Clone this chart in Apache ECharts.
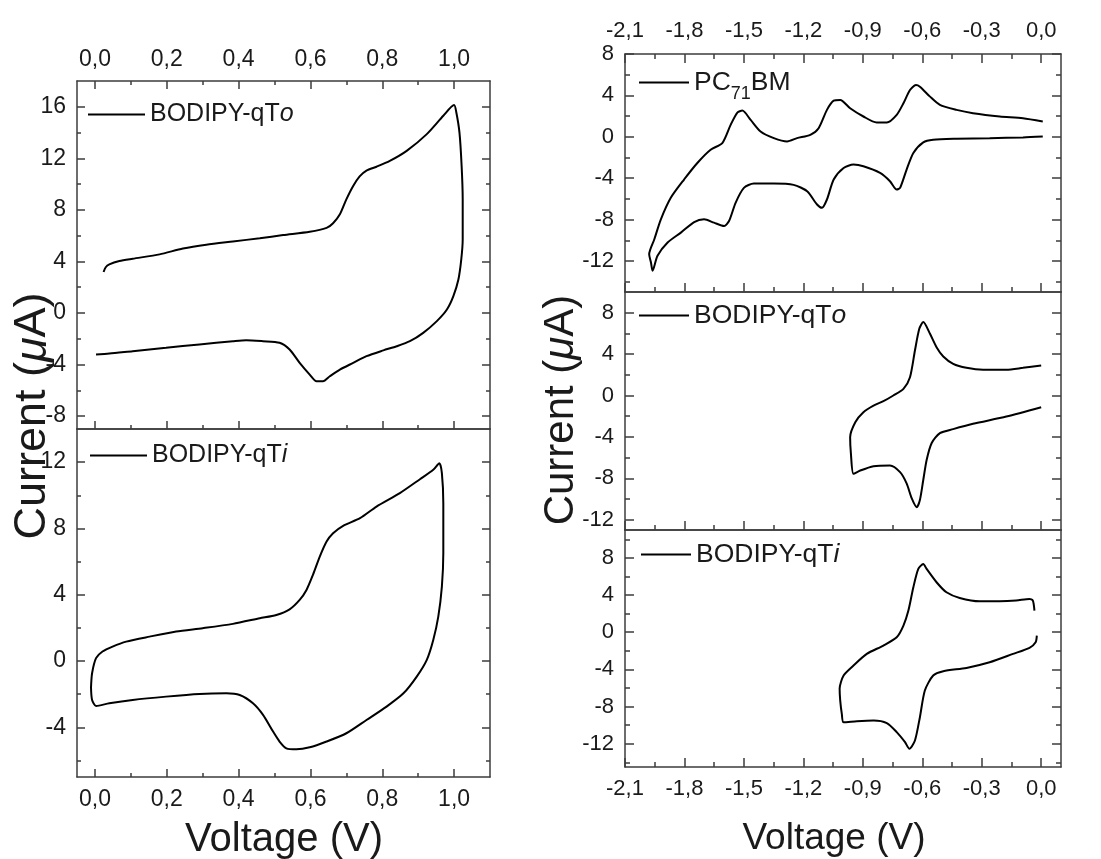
<!DOCTYPE html>
<html>
<head>
<meta charset="utf-8">
<title>Cyclic voltammograms</title>
<script src="https://cdn.jsdelivr.net/npm/echarts@6/dist/echarts.min.js"></script>
<style>
  html, body { margin: 0; padding: 0; background: #fff; }
  #chart { width: 1101px; height: 859px; }
</style>
</head>
<body>
<div id="chart"></div>
<script>
// 曲线数据: [电压 (V), 电流 (μA)]
const qToOxidation = [
  [0.024, 3.18], [0.03, 3.55], [0.04, 3.77], [0.068, 4.03], [0.105, 4.21], [0.18, 4.55],
  [0.245, 5.0], [0.31, 5.3], [0.384, 5.55], [0.459, 5.8], [0.524, 6.05], [0.598, 6.3],
  [0.645, 6.6], [0.663, 6.96], [0.682, 7.66], [0.7, 8.82], [0.719, 9.86], [0.737, 10.6],
  [0.756, 11.05], [0.784, 11.35], [0.821, 11.8], [0.868, 12.58], [0.924, 13.88], [0.97, 15.3],
  [1.0, 16.13], [1.006, 15.6], [1.015, 14.0], [1.021, 11.41], [1.024, 8.82], [1.024, 5.72],
  [1.02, 4.16], [1.012, 2.6], [0.998, 1.31], [0.98, 0.27], [0.952, -0.63], [0.914, -1.54],
  [0.877, -2.19], [0.84, -2.58], [0.803, -2.9], [0.756, -3.35], [0.719, -3.87], [0.682, -4.39],
  [0.654, -4.91], [0.635, -5.3], [0.617, -5.3], [0.598, -4.78], [0.57, -3.87], [0.542, -2.83],
  [0.514, -2.31], [0.468, -2.19], [0.421, -2.11], [0.384, -2.19], [0.291, -2.44], [0.198, -2.7],
  [0.105, -2.96], [0.04, -3.15], [0.003, -3.22]
]
const qTiOxidation = [
  [-0.011, -1.6], [-0.008, -0.74], [0.003, 0.17], [0.021, 0.57], [0.049, 0.87], [0.087, 1.17],
  [0.152, 1.47], [0.226, 1.78], [0.3, 1.98], [0.384, 2.24], [0.459, 2.58], [0.505, 2.78],
  [0.542, 3.12], [0.57, 3.69], [0.589, 4.29], [0.607, 5.2], [0.626, 6.3], [0.645, 7.21],
  [0.663, 7.71], [0.691, 8.16], [0.738, 8.62], [0.784, 9.32], [0.849, 10.13], [0.905, 10.97],
  [0.942, 11.54], [0.959, 11.94], [0.966, 11.34], [0.97, 9.52], [0.97, 6.51], [0.966, 4.49],
  [0.956, 2.68], [0.942, 1.27], [0.924, 0.07], [0.896, -0.94], [0.859, -1.95], [0.812, -2.75],
  [0.756, -3.56], [0.7, -4.36], [0.645, -4.86], [0.598, -5.21], [0.561, -5.33], [0.533, -5.27],
  [0.514, -4.86], [0.496, -4.26], [0.468, -3.25], [0.44, -2.55], [0.403, -2.05], [0.366, -1.95],
  [0.291, -1.99], [0.198, -2.15], [0.105, -2.35], [0.04, -2.55], [0.003, -2.71], [-0.008, -2.35],
  [-0.011, -1.6]
]
const pcbmReduction = [
  [0.008, 1.47], [-0.092, 1.79], [-0.209, 1.96], [-0.344, 2.28], [-0.427, 2.6], [-0.511, 3.08],
  [-0.561, 3.88], [-0.612, 4.84], [-0.632, 5.0], [-0.662, 4.52], [-0.695, 3.24], [-0.729, 2.12],
  [-0.779, 1.38], [-0.83, 1.38], [-0.897, 1.96], [-0.964, 2.76], [-1.014, 3.56], [-1.047, 3.49],
  [-1.081, 2.6], [-1.123, 0.83], [-1.165, 0.19], [-1.232, -0.13], [-1.282, -0.45], [-1.349, -0.13],
  [-1.416, 0.51], [-1.466, 1.63], [-1.508, 2.53], [-1.533, 2.34], [-1.567, 1.15], [-1.609, -0.61],
  [-1.668, -1.25], [-1.735, -2.53], [-1.802, -4.13], [-1.869, -5.9], [-1.919, -7.98], [-1.952, -9.9],
  [-1.978, -11.35], [-1.969, -12.15], [-1.961, -12.95], [-1.936, -11.5], [-1.885, -10.22], [-1.818, -9.26],
  [-1.751, -8.24], [-1.701, -7.98], [-1.651, -8.3], [-1.6, -8.62], [-1.575, -8.14], [-1.542, -6.38],
  [-1.5, -4.94], [-1.45, -4.52], [-1.349, -4.52], [-1.249, -4.65], [-1.181, -5.26], [-1.131, -6.54],
  [-1.106, -6.86], [-1.081, -6.06], [-1.047, -4.13], [-0.997, -3.01], [-0.947, -2.69], [-0.897, -2.85],
  [-0.813, -3.49], [-0.763, -4.29], [-0.729, -5.1], [-0.712, -4.94], [-0.679, -3.17], [-0.645, -1.57],
  [-0.595, -0.54], [-0.545, -0.29], [-0.427, -0.19], [-0.26, -0.13], [-0.092, -0.06], [0.008, 0.03]
]
const qToReduction = [
  [0, 2.9], [-0.092, 2.67], [-0.176, 2.48], [-0.293, 2.48], [-0.377, 2.67], [-0.444, 3.06],
  [-0.494, 3.77], [-0.528, 4.67], [-0.561, 5.96], [-0.595, 7.09], [-0.615, 6.44], [-0.637, 4.35],
  [-0.662, 1.77], [-0.695, 0.64], [-0.746, 0.0], [-0.796, -0.55], [-0.846, -0.97], [-0.897, -1.61],
  [-0.938, -2.58], [-0.964, -4.03], [-0.96, -5.64], [-0.947, -7.57], [-0.913, -7.25], [-0.846, -6.83],
  [-0.763, -6.76], [-0.712, -7.41], [-0.679, -8.5], [-0.653, -9.95], [-0.628, -10.79], [-0.612, -10.1],
  [-0.595, -8.17], [-0.578, -6.23], [-0.553, -4.61], [-0.511, -3.64], [-0.444, -3.25], [-0.344, -2.74],
  [-0.176, -2.03], [0, -1.13]
]
const qTiReduction = [
  [-0.034, 2.33], [-0.042, 3.41], [-0.059, 3.58], [-0.126, 3.41], [-0.209, 3.33], [-0.31, 3.33],
  [-0.411, 3.69], [-0.478, 4.3], [-0.528, 5.38], [-0.578, 6.81], [-0.595, 7.35], [-0.62, 6.81],
  [-0.645, 4.84], [-0.67, 2.33], [-0.695, 0.72], [-0.729, -0.54], [-0.796, -1.43], [-0.88, -2.33],
  [-0.947, -3.58], [-0.997, -4.66], [-1.017, -6.09], [-1.014, -7.35], [-1.006, -8.78], [-0.997, -9.68],
  [-0.93, -9.57], [-0.846, -9.5], [-0.779, -9.78], [-0.729, -10.75], [-0.687, -11.83], [-0.665, -12.54],
  [-0.637, -11.65], [-0.612, -9.14], [-0.587, -6.27], [-0.545, -4.66], [-0.494, -4.19], [-0.377, -3.84],
  [-0.26, -3.23], [-0.142, -2.33], [-0.059, -1.68], [-0.028, -1.08], [-0.022, -0.36]
]

// 刻度
const leftVoltTicks = [0, 0.2, 0.4, 0.6, 0.8, 1.0]
const leftVoltMinor = [0.1, 0.3, 0.5, 0.7, 0.9]
const rightVoltTicks = [-2.1, -1.8, -1.5, -1.2, -0.9, -0.6, -0.3, 0]
const rightVoltMinor = [-1.95, -1.65, -1.35, -1.05, -0.75, -0.45, -0.15]
const qToOxTicks = [-8, -4, 0, 4, 8, 12, 16]
const qToOxMinor = [-6, -2, 2, 6, 10, 14]
const qTiOxTicks = [-4, 0, 4, 8, 12]
const qTiOxMinor = [-6, -2, 2, 6, 10]
const reductionTicks = [-12, -8, -4, 0, 4, 8]
const pcbmMinor = [-14, -10, -6, -2, 2, 6]
const qToRedMinor = [-10, -6, -2, 2, 6]
const qTiRedMinor = [-14, -10, -6, -2, 2, 6, 10]

const FRAME = '#3c3c3c'
const TEXT = '#1a1a1a'
const FONT = '"Liberation Sans", Arial, Helvetica, sans-serif'

const voltFmt = v => v.toFixed(1).replace('.', ',')
const currentFmt = v => String(v)

// 面板布局
const panels = [
  {
    name: 'BODIPY-qTo ox', label: '{n|BODIPY-qT}{i|o}', data: qToOxidation,
    grid: { left: 77, top: 81, width: 413, height: 348 },
    x: [-0.05, 1.1], y: [-9, 18], xMajor: leftVoltTicks, xMinor: leftVoltMinor,
    yMajor: qToOxTicks, yMinor: qToOxMinor, xLabel: 'top', topTicks: true,
    tick: [8, 4], font: 23, legend: { left: 88, top: 102, w: 57, size: 25 }
  },
  {
    name: 'BODIPY-qTi ox', label: '{n|BODIPY-qT}{i|i}', data: qTiOxidation,
    grid: { left: 77, top: 429, width: 413, height: 348 },
    x: [-0.05, 1.1], y: [-7, 14], xMajor: leftVoltTicks, xMinor: leftVoltMinor,
    yMajor: qTiOxTicks, yMinor: qTiOxMinor, xLabel: 'bottom', topTicks: false,
    tick: [8, 4], font: 23, legend: { left: 90, top: 443, w: 57, size: 25 }
  },
  {
    name: 'PC71BM', label: '{n|PC}{s|71}{n|BM}', data: pcbmReduction,
    grid: { left: 625, top: 54, width: 436, height: 238 },
    x: [-2.1, 0.1], y: [-15, 8], xMajor: rightVoltTicks, xMinor: rightVoltMinor,
    yMajor: reductionTicks, yMinor: pcbmMinor, xLabel: 'top', topTicks: true,
    tick: [9, 5], font: 22, legend: { left: 639, top: 62, w: 50, size: 26.5 }
  },
  {
    name: 'BODIPY-qTo red', label: '{n|BODIPY-qT}{i|o}', data: qToReduction,
    grid: { left: 625, top: 292, width: 436, height: 238 },
    x: [-2.1, 0.1], y: [-13, 10], xMajor: rightVoltTicks, xMinor: rightVoltMinor,
    yMajor: reductionTicks, yMinor: qToRedMinor, xLabel: null, topTicks: false,
    tick: [9, 5], font: 22, legend: { left: 639, top: 302, w: 50, size: 26.5 }
  },
  {
    name: 'BODIPY-qTi red', label: '{n|BODIPY-qT}{i|i}', data: qTiReduction,
    grid: { left: 625, top: 530, width: 436, height: 237 },
    x: [-2.1, 0.1], y: [-14.5, 11], xMajor: rightVoltTicks, xMinor: rightVoltMinor,
    yMajor: reductionTicks, yMinor: qTiRedMinor, xLabel: 'bottom', topTicks: false,
    tick: [9, 5], font: 22, legend: { left: 641, top: 541, w: 50, size: 26.5 }
  }
]

const makeAxis = (gi, pos, range, opt) => {
  const ticks = opt.ticks || []
  return {
    type: 'value',
    gridIndex: gi,
    position: pos,
    min: range[0],
    max: range[1],
    axisLine: { show: !!opt.line, onZero: false, lineStyle: { color: FRAME, width: 1.5 } },
    axisTick: {
      show: ticks.length > 0,
      inside: true,
      length: opt.len || 8,
      customValues: ticks,
      lineStyle: { color: FRAME, width: 1.5 }
    },
    axisLabel: opt.fmt ? {
      show: true,
      customValues: ticks,
      formatter: opt.fmt,
      margin: opt.margin,
      fontSize: opt.font,
      fontFamily: FONT,
      color: TEXT
    } : { show: false },
    splitLine: { show: false },
    z: 5
  }
}

const xAxis = []
const yAxis = []
const series = []
const grid = []

panels.forEach((p, gi) => {
  grid.push(Object.assign({ outerBoundsMode: 'none' }, p.grid))
  const [big, small] = p.tick
  const xMain = xAxis.length
  xAxis.push(makeAxis(gi, 'bottom', p.x, {
    line: true, ticks: p.xMajor, len: big, font: p.font,
    fmt: p.xLabel === 'bottom' ? voltFmt : null, margin: 11
  }))
  xAxis.push(makeAxis(gi, 'bottom', p.x, { ticks: p.xMinor, len: small }))
  xAxis.push(makeAxis(gi, 'top', p.x, {
    line: true, ticks: p.topTicks ? p.xMajor : [], len: big, font: p.font,
    fmt: p.xLabel === 'top' ? voltFmt : null, margin: gi === 0 ? 10 : 12
  }))
  xAxis.push(makeAxis(gi, 'top', p.x, { ticks: p.topTicks ? p.xMinor : [], len: small }))

  const yMain = yAxis.length
  yAxis.push(makeAxis(gi, 'left', p.y, {
    line: true, ticks: p.yMajor, len: big, font: p.font, fmt: currentFmt, margin: 11
  }))
  yAxis.push(makeAxis(gi, 'left', p.y, { ticks: p.yMinor, len: small }))
  yAxis.push(makeAxis(gi, 'right', p.y, { line: true, ticks: p.yMajor, len: big }))
  yAxis.push(makeAxis(gi, 'right', p.y, { ticks: p.yMinor, len: small }))

  series.push({
    name: p.name,
    type: 'line',
    xAxisIndex: xMain,
    yAxisIndex: yMain,
    data: p.data,
    symbol: 'none',
    smooth: 0.25,
    lineStyle: { color: '#000', width: 2 },
    itemStyle: { color: '#000' },
    z: 3
  })
})

const legendRich = size => ({
  n: { fontSize: size, fontFamily: FONT, color: TEXT },
  i: { fontSize: size, fontFamily: FONT, fontStyle: 'italic', color: TEXT },
  s: { fontSize: 18, fontFamily: FONT, color: TEXT, lineHeight: 30, padding: [23, 0, 0, 0] }
})

const legend = panels.map(p => ({
  data: [{ name: p.name, icon: 'rect' }],
  left: p.legend.left,
  top: p.legend.top,
  padding: 0,
  itemWidth: p.legend.w,
  itemHeight: 2,
  itemGap: 0,
  selectedMode: false,
  formatter: () => p.label,
  textStyle: { fontSize: p.legend.size, fontFamily: FONT, color: TEXT, rich: legendRich(p.legend.size) }
}))

const titleRich = size => ({
  a: { fontSize: size, fontFamily: FONT, fill: TEXT },
  b: { fontSize: size, fontFamily: FONT, fontStyle: 'italic', fill: TEXT }
})

const graphic = [
  {
    type: 'text', x: 33, y: 416, rotation: Math.PI / 2,
    style: { text: '{a|Current (}{b|μ}{a|A)}', rich: titleRich(45), align: 'center', verticalAlign: 'middle' }
  },
  {
    type: 'text', x: 561, y: 410, rotation: Math.PI / 2,
    style: { text: '{a|Current (}{b|μ}{a|A)}', rich: titleRich(42), align: 'center', verticalAlign: 'middle' }
  },
  {
    type: 'text', x: 284, y: 840,
    style: { text: 'Voltage (V)', fontSize: 40, fontFamily: FONT, fill: TEXT, align: 'center', verticalAlign: 'middle' }
  },
  {
    type: 'text', x: 834, y: 839,
    style: { text: 'Voltage (V)', fontSize: 37, fontFamily: FONT, fill: TEXT, align: 'center', verticalAlign: 'middle' }
  }
]

const chart = echarts.init(document.getElementById('chart'))
chart.setOption({
  animation: false,
  backgroundColor: '#fff',
  grid,
  xAxis,
  yAxis,
  legend,
  graphic,
  series
})
</script>
</body>
</html>
